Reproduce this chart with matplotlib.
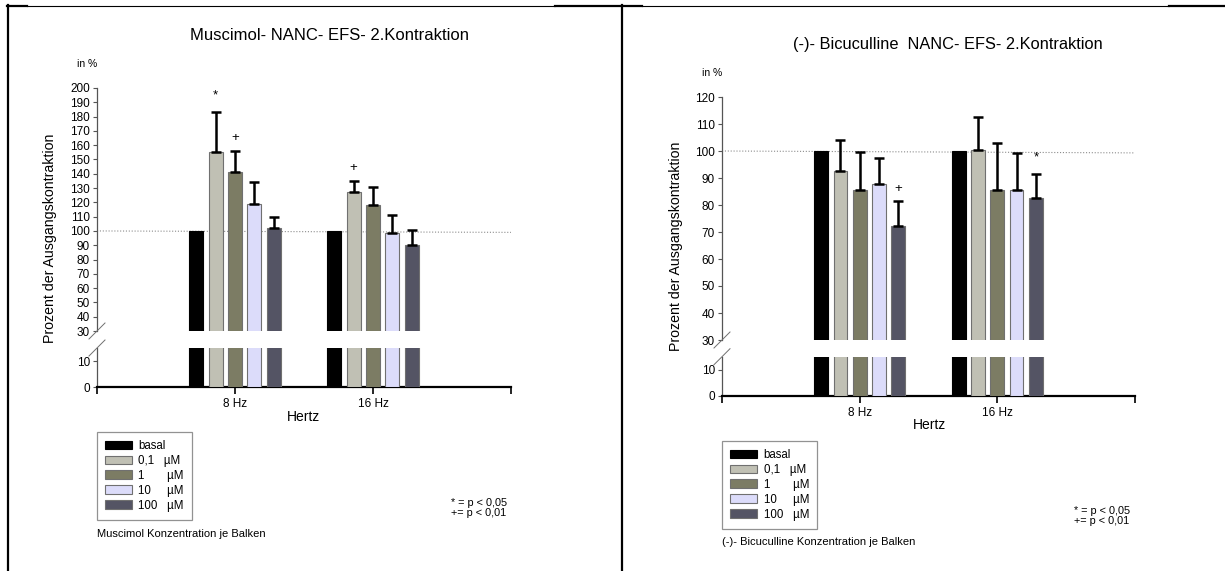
import numpy as np
import matplotlib
matplotlib.use('Agg')
import matplotlib.pyplot as plt
from matplotlib.patches import Patch
from matplotlib.lines import Line2D

plt.rcParams['font.family'] = ['Liberation Sans', 'DejaVu Sans']

# Daten
groups = ['8 Hz', '16 Hz']
series = ['basal', '0,1   µM', '1       µM', '10     µM', '100   µM']
colors = ['#000000', '#C0C0B4', '#7C7C64', '#DCDCFA', '#545464']

# Muscimol (Prozent der Ausgangskontraktion), je Gruppe: basal, 0,1, 1, 10, 100 µM
mus_8hz = [100, 155, 141, 119, 102]
mus_16hz = [100, 127.5, 118, 98.5, 90.5]
mus_err_8hz = [0, 28, 15, 15, 8]
mus_err_16hz = [0, 7.5, 13, 13, 10]
mus_marks = [(0, 1, '*'), (0, 2, '+'), (1, 1, '+')]  # (Gruppe, Balken, Zeichen)

# (-)-Bicuculline
bic_8hz = [100, 92.5, 85.7, 87.6, 72.4]
bic_16hz = [100, 100.4, 85.7, 85.7, 82.7]
bic_err_8hz = [0, 11.5, 13.8, 9.8, 8.9]
bic_err_16hz = [0, 12.2, 17.4, 13.6, 8.7]
bic_marks = [(0, 4, '+'), (1, 4, '*')]

W, H = 1225, 571
fig = plt.figure(figsize=(W / 100, H / 100), dpi=100)


def px(x, y):
    return x / W, 1 - y / H


def draw_panel(vals, errs, marks, left, right, top_y, brk_y, low_top_y, zero_y,
               ymax, ref_end, title, tx, ty, inx, iny, ylx, yly, hx, hy,
               leg_xy, foot, foot_xy, p_xy, title_size):
    x0, _ = px(left, 0)
    w = (right - left) / W
    _, b_up = px(0, brk_y)
    h_up = (brk_y - top_y) / H
    _, b_lo = px(0, zero_y)
    h_lo = (zero_y - low_top_y) / H
    ax_up = fig.add_axes([x0, b_up, w, h_up])
    ax_lo = fig.add_axes([x0, b_lo, w, h_lo])

    step, bw = 0.14, 0.1
    for i in range(len(series)):
        xs = np.arange(1, len(groups) + 1) + (i - 2) * step
        v = [vals[g][i] for g in range(len(groups))]
        e = [errs[g][i] for g in range(len(groups))]
        ec = colors[i] if i == 0 else '#707070'
        for ax in (ax_up, ax_lo):
            ax.bar(xs, v, width=bw, color=colors[i], edgecolor=ec, linewidth=0.8, zorder=3)
        if i > 0:
            ax_up.errorbar(xs, v, yerr=[np.zeros(len(e)), e], fmt='none', ecolor='black',
                           elinewidth=1.8, capsize=3.6, capthick=1.8, zorder=4)
    for g, i, m in marks:
        xm = g + 1 + (i - 2) * step
        ym = vals[g][i] + errs[g][i]
        ax_up.annotate(m, (xm, ym), xytext=(0, 12 if m == '*' else 9), textcoords='offset points',
                       ha='center', va='center', fontsize=9.5)

    ax_up.plot([0, 3], [100, ref_end], color='#8c8c8c', lw=0.8, linestyle=(0, (1, 1.6)), zorder=2)

    ax_up.set_xlim(0, 3)
    ax_lo.set_xlim(0, 3)
    ax_up.set_ylim(30, ymax)
    ax_lo.set_ylim(0, 15)
    ax_up.set_yticks(np.arange(30, ymax + 1, 10))
    ax_lo.set_yticks([0, 10])
    ax_up.set_xticks([])
    ax_lo.set_xticks([0, 1, 2, 3])
    ax_lo.set_xticklabels(['', groups[0], groups[1], ''])
    for ax in (ax_up, ax_lo):
        ax.patch.set_alpha(0)
        ax.spines['top'].set_visible(False)
        ax.spines['right'].set_visible(False)
        ax.spines['left'].set_color('#555555')
        ax.spines['left'].set_linewidth(0.9)
        ax.tick_params(axis='y', length=3, width=0.8, color='#555555', labelsize=8.5, pad=2)
    ax_up.spines['bottom'].set_visible(False)
    ax_lo.spines['bottom'].set_linewidth(1.6)
    ax_lo.tick_params(axis='x', length=5, width=1.2, labelsize=8.5, pad=3)

    # Achsenbruch
    for yb in (brk_y, low_top_y):
        fig.add_artist(Line2D([(left - 8) / W, (left + 8) / W],
                              [1 - (yb + 8) / H, 1 - (yb - 8) / H], color='#707070', lw=0.7))

    fig.text(*px(tx, ty), title, ha='center', va='center', fontsize=title_size)
    fig.text(*px(inx, iny), 'in %', ha='center', va='center', fontsize=7.5)
    fig.text(*px(ylx, yly), 'Prozent der Ausgangskontraktion', ha='center', va='center',
             rotation=90, fontsize=10.2)
    fig.text(*px(hx, hy), 'Hertz', ha='center', va='center', fontsize=10)

    handles = [Patch(facecolor=c, edgecolor=('#000000' if k == 0 else '#707070'), linewidth=0.8)
               for k, c in enumerate(colors)]
    leg = fig.legend(handles, series, loc='upper left', bbox_to_anchor=px(*leg_xy),
                     fontsize=8.3, frameon=True, fancybox=False, edgecolor='#777777',
                     handlelength=2.3, handleheight=0.8, labelspacing=0.25,
                     handletextpad=0.6, borderpad=0.7, borderaxespad=0)
    leg.get_frame().set_linewidth(0.9)

    fig.text(*px(*foot_xy), foot, ha='left', va='center', fontsize=8)
    fig.text(*px(*p_xy), '* = p < 0,05\n+= p < 0,01', ha='left', va='center',
             fontsize=7.8, linespacing=1.1)


draw_panel([mus_8hz, mus_16hz], [mus_err_8hz, mus_err_16hz], mus_marks,
           97, 511, 88, 331, 348, 387, 200, 99,
           'Muscimol- NANC- EFS- 2.Kontraktion', 330, 36, 87, 64, 50, 238, 304, 417,
           (97, 432), 'Muscimol Konzentration je Balken', (97, 534), (451, 508), 12)

draw_panel([bic_8hz, bic_16hz], [bic_err_8hz, bic_err_16hz], bic_marks,
           722, 1135, 97, 340, 356.7, 395.7, 120, 99.3,
           '(-)- Bicuculline  NANC- EFS- 2.Kontraktion', 948, 45, 712, 73, 676, 246, 929, 425,
           (722, 441), '(-)- Bicuculline Konzentration je Balken', (722, 542), (1074, 516), 11.8)

# Rahmenlinien der Vorlage
def hline(x1, x2, y, lw):
    fig.add_artist(Line2D([x1 / W, x2 / W], [1 - y / H, 1 - y / H], color='black', lw=lw))


def vline(x, y1, y2, lw):
    fig.add_artist(Line2D([x / W, x / W], [1 - y1 / H, 1 - y2 / H], color='black', lw=lw))


vline(8, 5, 571, 1.6)
vline(622, 5, 571, 1.6)
hline(7, 27, 5.5, 1.6)
hline(27, 555, 5.5, 0.8)
hline(555, 642, 5.5, 1.6)
hline(642, 1169, 5.5, 0.8)
hline(1169, 1225, 5.5, 1.6)

fig.savefig('out.png', dpi=100)
